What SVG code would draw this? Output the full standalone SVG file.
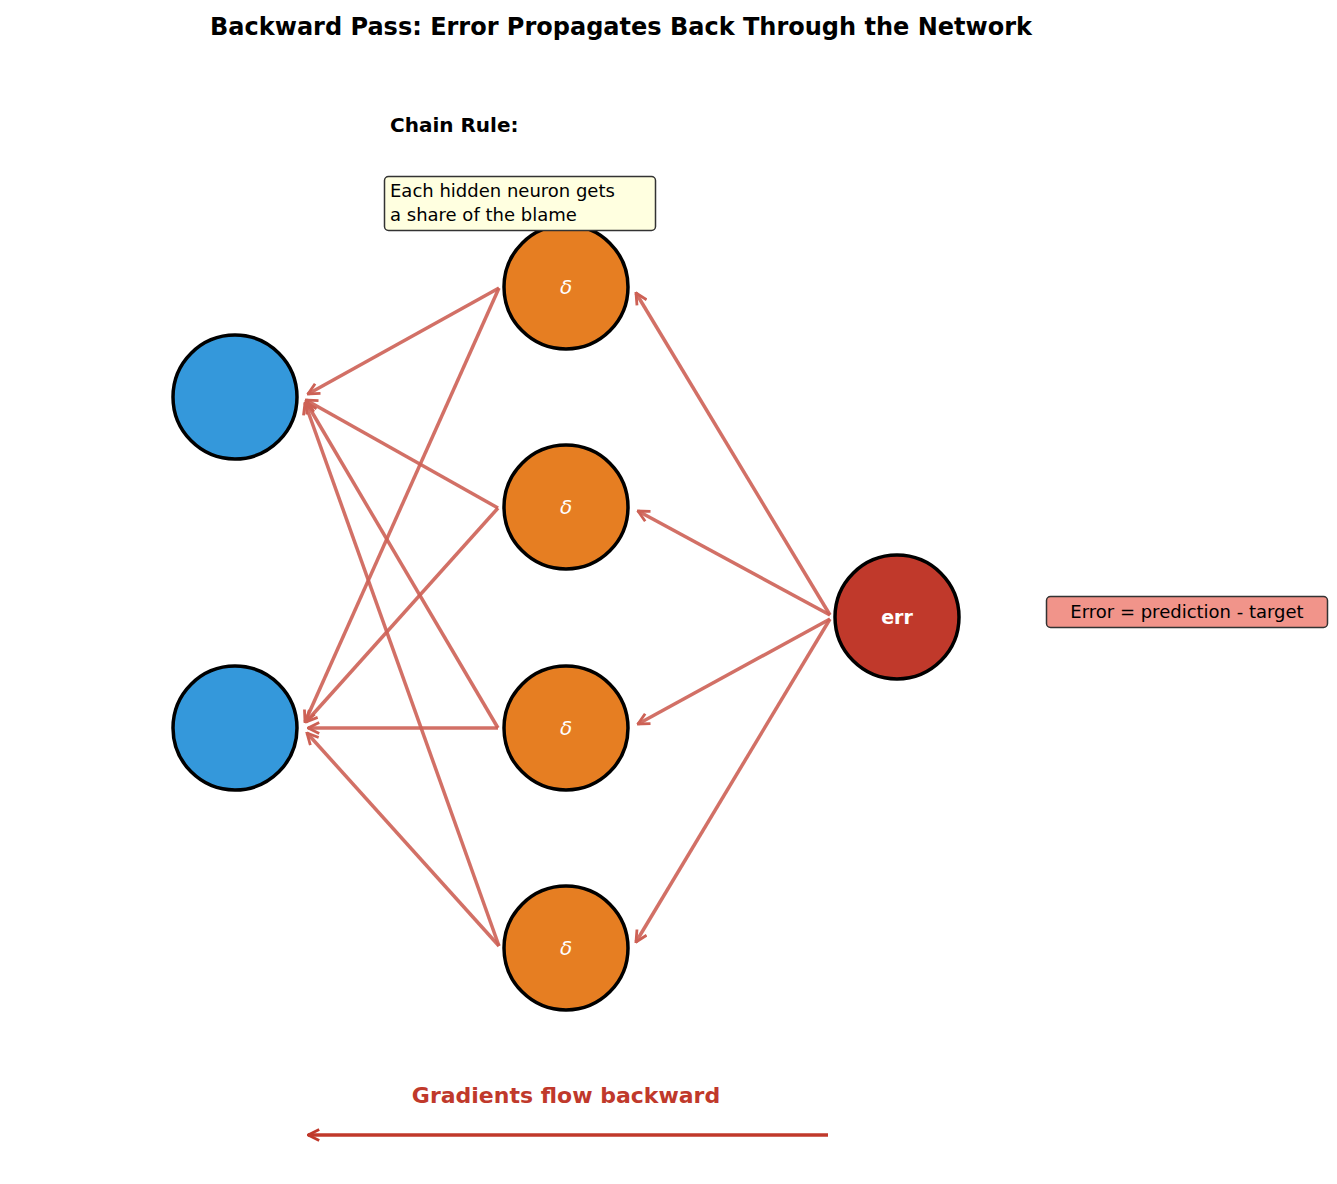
<svg xmlns="http://www.w3.org/2000/svg" width="1337" height="1184" viewBox="0 0 1337 1184">
<style>
text{font-family:"DejaVu Sans",sans-serif}
.in{fill:#3498db;stroke:#000;stroke-width:3.5}
.hid{fill:#e67e22;stroke:#000;stroke-width:3.5}
.out{fill:#c0392b;stroke:#000;stroke-width:3.5}
.c line{stroke:#cd6155;stroke-opacity:0.9;stroke-width:3.5;marker-end:url(#a)}
.d{fill:#fff;font-size:20px;font-style:italic;text-anchor:middle}
</style>
<defs>
<marker id="a" viewBox="0 0 10 10" refX="9" refY="5" markerWidth="4" markerHeight="4" orient="auto" markerUnits="strokeWidth">
<polyline points="1,1 9,5 1,9" fill="none" stroke="#cd6155" stroke-width="2"/>
</marker>
<marker id="b" viewBox="0 0 10 10" refX="9" refY="5" markerWidth="4" markerHeight="4" orient="auto" markerUnits="strokeWidth">
<polyline points="1,1 9,5 1,9" fill="none" stroke="#c0392b" stroke-width="2"/>
</marker>
</defs>
<rect width="1337" height="1184" fill="#fff"/>
<text x="621" y="35" font-size="24" font-weight="bold" text-anchor="middle">Backward Pass: Error Propagates Back Through the Network</text>
<g id="connectors" class="c">
<line x1="830" y1="615" x2="636" y2="293"/>
<line x1="830" y1="615" x2="638" y2="511"/>
<line x1="830" y1="619" x2="638" y2="724"/>
<line x1="830" y1="619" x2="636" y2="942"/>
<line x1="499" y1="288" x2="308" y2="394"/>
<line x1="499" y1="288" x2="305" y2="722"/>
<line x1="498" y1="508" x2="306" y2="400"/>
<line x1="498" y1="508" x2="306" y2="722"/>
<line x1="498" y1="728" x2="306" y2="402"/>
<line x1="498" y1="728" x2="308" y2="728"/>
<line x1="499" y1="946" x2="305" y2="403"/>
<line x1="499" y1="946" x2="307" y2="733"/>
</g>
<g id="in1"><circle class="in" cx="235" cy="397" r="62"/></g>
<g id="in2"><circle class="in" cx="235" cy="728" r="62"/></g>
<g id="h1"><circle class="hid" cx="566" cy="287" r="62"/><text class="d" x="566" y="294">δ</text></g>
<g id="h2"><circle class="hid" cx="566" cy="507" r="62"/><text class="d" x="566" y="514">δ</text></g>
<g id="h3"><circle class="hid" cx="566" cy="728" r="62"/><text class="d" x="566" y="735">δ</text></g>
<g id="h4"><circle class="hid" cx="566" cy="948" r="62"/><text class="d" x="566" y="955">δ</text></g>
<g id="err"><circle class="out" cx="897" cy="617" r="62"/><text x="897" y="624" fill="#fff" font-size="19" font-weight="bold" text-anchor="middle">err</text></g>
<text x="390" y="132" font-size="20" font-weight="bold">Chain Rule:</text>
<g id="note"><rect x="384.5" y="176.5" width="271" height="54" rx="4" fill="#ffffe0" stroke="#333" stroke-width="1.5"/>
<text x="390" y="197" font-size="18">Each hidden neuron gets</text>
<text x="390" y="221" font-size="18">a share of the blame</text></g>
<g id="errnote"><rect x="1046.5" y="596.5" width="281" height="31" rx="4" fill="#f1948a" stroke="#333" stroke-width="1.5"/>
<text x="1187" y="618" font-size="18" text-anchor="middle">Error = prediction - target</text></g>
<text x="566" y="1103" font-size="22" font-weight="bold" fill="#c0392b" text-anchor="middle">Gradients flow backward</text>
<line x1="828" y1="1135" x2="308" y2="1135" stroke="#c0392b" stroke-width="3.5" marker-end="url(#b)"/>
</svg>
